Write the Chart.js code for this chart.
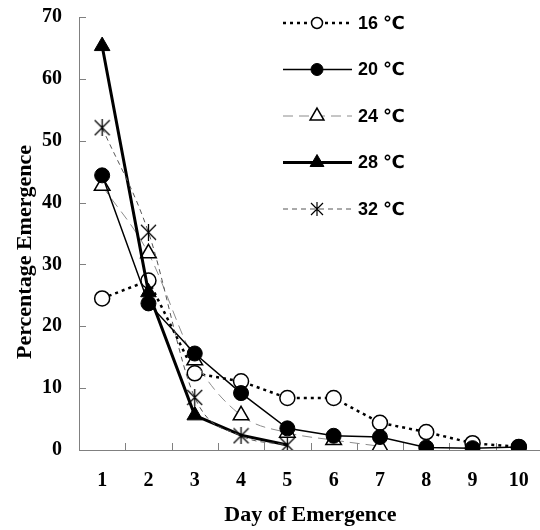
<!DOCTYPE html>
<html>
<head>
<meta charset="utf-8">
<script src="https://cdn.jsdelivr.net/npm/chart.js@4.4.0/dist/chart.umd.min.js"></script>
<style>
    html, body { margin: 0; padding: 0; background: #fff; overflow: hidden; }
    #wrap { width: 542px; height: 530px; }
</style>
</head>
<body>
<div id="wrap"><canvas id="chart" width="542" height="530"></canvas></div>
<script>
// Emergence data
const days = ['1', '2', '3', '4', '5', '6', '7', '8', '9', '10'];
const seriesNames = ['16 \u2103', '20 \u2103', '24 \u2103', '28 \u2103', '32 \u2103'];
const temp16 = [24.5, 27.4, 12.4, 11.1, 8.4, 8.4, 4.4, 2.9, 1.1, 0.5];
const temp20 = [44.4, 23.7, 15.6, 9.2, 3.5, 2.3, 2.1, 0.4, 0.3, 0.5];
const temp24 = [42.7, 31.8, 14.5, 5.6, 2.8, 1.6, 0.6];
const temp28 = [65.3, 25.5, 5.6, 2.4, 0.8];
const temp32 = [52.1, 35.2, 8.5, 2.3, 0.8];
const yTicks = [0, 10, 20, 30, 40, 50, 60, 70];

function makeAsterisk(size, lw) {
    const c = document.createElement('canvas');
    c.width = size;
    c.height = size;
    const g = c.getContext('2d');
    g.strokeStyle = '#000';
    g.lineWidth = lw;
    g.beginPath();
    g.moveTo(1, 1); g.lineTo(size - 1, size - 1);
    g.moveTo(size - 1, 1); g.lineTo(1, size - 1);
    g.moveTo(size / 2, 0); g.lineTo(size / 2, size);
    g.stroke();
    return c;
}

const starBig = makeAsterisk(17, 1.3);
const starSmall = makeAsterisk(14, 1.2);

const datasets = [
    {
        label: seriesNames[0], data: temp16, order: 5,
        borderColor: '#000', borderWidth: 2.5, borderDash: [3, 4],
        pointStyle: 'circle', pointRadius: 7.5, pointBackgroundColor: '#fff',
        pointBorderColor: '#000', pointBorderWidth: 1.5, legendRadius: 5.5
    },
    {
        label: seriesNames[1], data: temp20, order: 2,
        borderColor: '#000', borderWidth: 1.5,
        pointStyle: 'circle', pointRadius: 7.5, pointBackgroundColor: '#000',
        pointBorderColor: '#000', pointBorderWidth: 1, legendRadius: 6
    },
    {
        label: seriesNames[2], data: temp24, order: 4,
        borderColor: '#8c8c8c', borderWidth: 1, borderDash: [10, 6],
        cubicInterpolationMode: 'monotone',
        pointStyle: 'triangle', pointRadius: 9, pointBackgroundColor: '#fff',
        pointBorderColor: '#000', pointBorderWidth: 1.5, legendRadius: 8
    },
    {
        label: seriesNames[3], data: temp28, order: 3,
        borderColor: '#000', borderWidth: 3,
        pointStyle: 'triangle', pointRadius: [9, 9, 9, 0, 0], pointBackgroundColor: '#000',
        pointBorderColor: '#000', pointBorderWidth: 1, legendRadius: 8
    },
    {
        label: seriesNames[4], data: temp32, order: 1,
        borderColor: '#555', borderWidth: 1, borderDash: [5, 4],
        cubicInterpolationMode: 'monotone',
        pointStyle: starBig, pointRadius: 8.5, pointBackgroundColor: '#000',
        pointBorderColor: '#000', pointBorderWidth: 1, legendStyle: starSmall, legendRadius: 7
    }
];

// inside tick marks, y axis title and the box-free legend
const decorations = {
    id: 'decorations',
    beforeDatasetsDraw(chart) {
        const ctx = chart.ctx;
        const area = chart.chartArea;
        const x = chart.scales.x;
        const y = chart.scales.y;
        ctx.save();
        ctx.strokeStyle = '#808080';
        ctx.lineWidth = 1;
        ctx.beginPath();
        yTicks.forEach(v => {
            const py = Math.round(y.getPixelForValue(v)) + 0.5;
            ctx.moveTo(area.left, py);
            ctx.lineTo(area.left + 7, py);
        });
        for (let i = 1; i < days.length; i++) {
            const px = Math.round((x.getPixelForValue(i - 1) + x.getPixelForValue(i)) / 2) + 0.5;
            ctx.moveTo(px, area.bottom);
            ctx.lineTo(px, area.bottom - 7);
        }
        ctx.stroke();
        ctx.restore();
    },
    afterDraw(chart) {
        const ctx = chart.ctx;
        ctx.save();
        // y axis title
        ctx.translate(25, 252);
        ctx.rotate(-Math.PI / 2);
        ctx.font = 'bold 22px "Liberation Serif", "Times New Roman", serif';
        ctx.fillStyle = '#000';
        ctx.textAlign = 'center';
        ctx.textBaseline = 'middle';
        ctx.fillText('Percentage Emergence', 0, 0);
        ctx.restore();

        // legend
        datasets.forEach((ds, i) => {
            const ly = 23 + i * 46.5;
            ctx.save();
            ctx.strokeStyle = ds.borderColor;
            ctx.lineWidth = ds.borderWidth;
            ctx.setLineDash(ds.borderDash || []);
            ctx.beginPath();
            ctx.moveTo(283, ly);
            ctx.lineTo(352, ly);
            ctx.stroke();
            ctx.setLineDash([]);
            ctx.fillStyle = ds.pointBackgroundColor;
            ctx.strokeStyle = ds.pointBorderColor;
            ctx.lineWidth = ds.pointBorderWidth;
            Chart.helpers.drawPoint(ctx, {
                pointStyle: ds.legendStyle || ds.pointStyle,
                radius: ds.legendRadius,
                rotation: 0,
                borderWidth: ds.pointBorderWidth
            }, 317, ly);
            ctx.fillStyle = '#000';
            ctx.font = 'bold 18px "Liberation Sans", Arial, "DejaVu Sans", sans-serif';
            ctx.textAlign = 'left';
            ctx.textBaseline = 'middle';
            ctx.fillText(ds.label, 358, ly + 1);
            ctx.restore();
        });
    }
};

new Chart(document.getElementById('chart'), {
    type: 'line',
    data: { labels: days, datasets: datasets },
    options: {
        responsive: false,
        animation: false,
        devicePixelRatio: 1,
        layout: { autoPadding: false, padding: { top: 17, right: 0, left: 0, bottom: 0 } },
        plugins: {
            legend: { display: false },
            tooltip: { enabled: false }
        },
        scales: {
            x: {
                type: 'category',
                offset: true,
                grid: { display: false, drawTicks: false },
                border: { display: true, color: '#808080', width: 1 },
                ticks: {
                    padding: 19,
                    color: '#000',
                    font: { family: '"Liberation Serif", "Times New Roman", serif', size: 20, weight: 'bold' }
                },
                title: {
                    display: true,
                    text: 'Day of Emergence',
                    color: '#000',
                    padding: { top: 0, bottom: 1 },
                    font: { family: '"Liberation Serif", "Times New Roman", serif', size: 22, weight: 'bold' }
                },
                afterFit(scale) {
                    scale.height = 80;
                    scale.paddingLeft = 0;
                    scale.paddingRight = 0;
                }
            },
            y: {
                min: 0,
                max: 70,
                grid: { display: false, drawTicks: false },
                border: { display: true, color: '#808080', width: 1 },
                ticks: {
                    stepSize: 10,
                    padding: 17,
                    color: '#000',
                    font: { family: '"Liberation Serif", "Times New Roman", serif', size: 20, weight: 'bold' }
                },
                afterFit(scale) {
                    scale.width = 79;
                    scale.paddingTop = 0;
                    scale.paddingBottom = 0;
                }
            }
        }
    },
    plugins: [decorations]
});
</script>
</body>
</html>
